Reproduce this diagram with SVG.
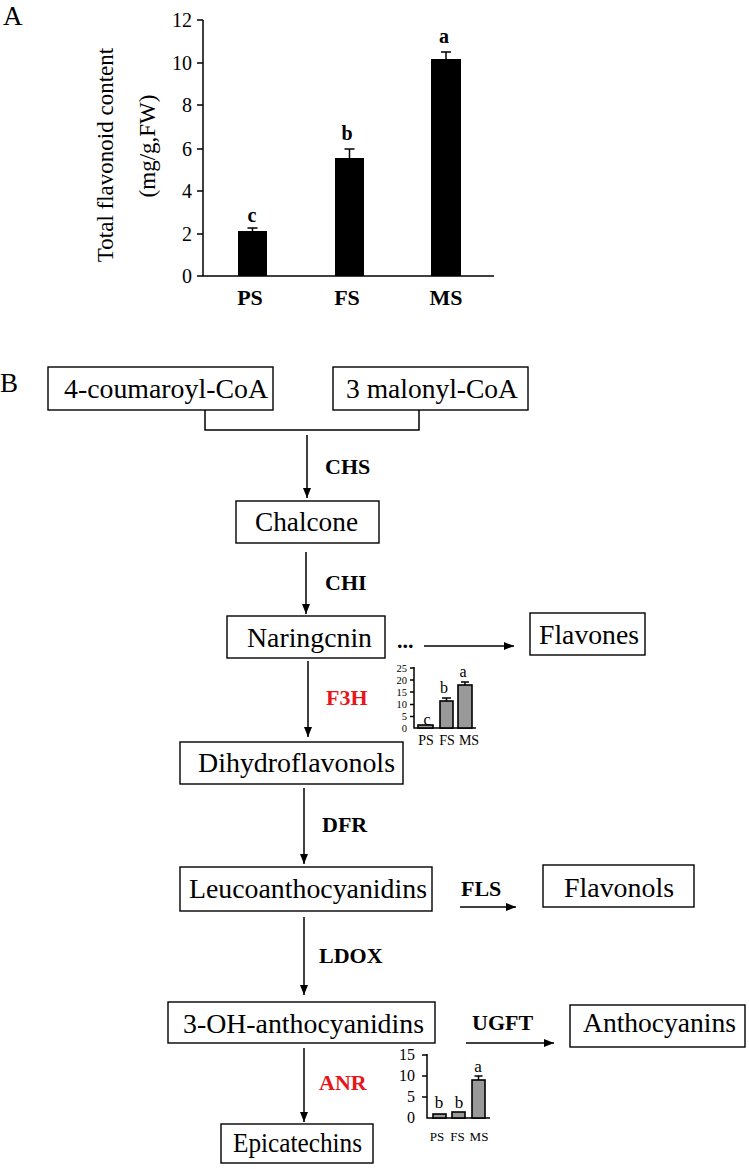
<svg xmlns="http://www.w3.org/2000/svg" width="749" height="1169" viewBox="0 0 749 1169">
<style>
.t{font-family:"Liberation Serif","Times New Roman",serif;fill:#000}
.node{font-size:27px}
.enz{font-size:22px;font-weight:bold}
.red{fill:#e8161b}
.box{fill:#fff;stroke:#000;stroke-width:1.4}
.ln{stroke:#000;stroke-width:1.5;fill:none}
.bar{fill:#000}
.gbar{fill:#999;stroke:#000;stroke-width:1.6}
</style>
<defs>
<marker id="ah" markerUnits="userSpaceOnUse" markerWidth="10" markerHeight="10" viewBox="0 0 10 10" refX="10" refY="5" orient="auto">
<path d="M0,1 L10,5 L0,9 Z" fill="#000"/>
</marker>
</defs>
<rect width="749" height="1169" fill="#fff"/>

<g id="chartA">
<text class="t" x="3" y="25" font-size="27">A</text>
<text class="t" font-size="23" text-anchor="middle" transform="translate(113,155) rotate(-90)">Total flavonoid content</text>
<text class="t" font-size="23" text-anchor="middle" transform="translate(155,146) rotate(-90)">(mg/g,FW)</text>
<path class="ln" d="M203,20 V276 H494 M197,20 H203 M197,63 H203 M197,105 H203 M197,149 H203 M197,191 H203 M197,234 H203 M197,276 H203"/>
<g class="t" font-size="20" text-anchor="end">
<text x="192" y="27">12</text>
<text x="192" y="70">10</text>
<text x="192" y="112">8</text>
<text x="192" y="156">6</text>
<text x="192" y="198">4</text>
<text x="192" y="241">2</text>
<text x="192" y="283">0</text>
</g>
<rect class="bar" x="238" y="231" width="29" height="45"/>
<rect class="bar" x="335" y="158" width="29" height="118"/>
<rect class="bar" x="431" y="59" width="30" height="217"/>
<path class="ln" d="M252.5,231 V228 M247.5,228 H257.5 M349.5,158 V149 M344.5,149 H354.5 M446,59 V52 M441,52 H451"/>
<g class="t" font-size="20" font-weight="bold" text-anchor="middle">
<text x="252" y="222">c</text>
<text x="347" y="140">b</text>
<text x="444" y="43">a</text>
</g>
<g class="t" font-size="22" font-weight="bold" text-anchor="middle">
<text x="250" y="305">PS</text>
<text x="347" y="305">FS</text>
<text x="446" y="305">MS</text>
</g>
</g>

<text class="t" x="0" y="392" font-size="27">B</text>

<g id="connectors">
<path class="ln" d="M205,410 V430 H419 V410"/>
<line class="ln" x1="307" y1="435" x2="307" y2="498" marker-end="url(#ah)"/>
<line class="ln" x1="306" y1="552" x2="306" y2="614" marker-end="url(#ah)"/>
<line class="ln" x1="308" y1="661" x2="308" y2="737" marker-end="url(#ah)"/>
<line class="ln" x1="304" y1="788" x2="304" y2="864" marker-end="url(#ah)"/>
<line class="ln" x1="304" y1="917" x2="304" y2="995" marker-end="url(#ah)"/>
<line class="ln" x1="304" y1="1048" x2="304" y2="1122" marker-end="url(#ah)"/>
<line class="ln" x1="424" y1="646" x2="514" y2="646" marker-end="url(#ah)"/>
<line class="ln" x1="460" y1="907" x2="516" y2="907" marker-end="url(#ah)"/>
<line class="ln" x1="466" y1="1043" x2="554" y2="1043" marker-end="url(#ah)"/>
</g>

<g id="enzymes" class="t enz">
<text x="325" y="474">CHS</text>
<text x="325" y="590">CHI</text>
<text class="red" x="326" y="705">F3H</text>
<text x="322" y="832">DFR</text>
<text x="461" y="896">FLS</text>
<text x="319" y="963">LDOX</text>
<text x="472" y="1030">UGFT</text>
<text class="red" x="319" y="1090">ANR</text>
</g>
<text class="t" x="397" y="648" font-size="22" font-weight="bold">...</text>

<g id="n-coumaroyl"><rect class="box" x="48" y="367" width="225" height="43"/><text class="t node" x="166" y="398" text-anchor="middle" textLength="204" lengthAdjust="spacingAndGlyphs">4-coumaroyl-CoA</text></g>
<g id="n-malonyl"><rect class="box" x="333" y="367" width="195" height="43"/><text class="t node" x="432" y="398" text-anchor="middle" textLength="172" lengthAdjust="spacingAndGlyphs">3 malonyl-CoA</text></g>
<g id="n-chalcone"><rect class="box" x="236" y="501" width="143" height="42"/><text class="t node" x="306.5" y="531" text-anchor="middle" textLength="103" lengthAdjust="spacingAndGlyphs">Chalcone</text></g>
<g id="n-naringenin"><rect class="box" x="227" y="616" width="158" height="42"/><text class="t node" x="309.5" y="647" text-anchor="middle" textLength="125" lengthAdjust="spacingAndGlyphs">Naringcnin</text></g>
<g id="n-flavones"><rect class="box" x="530" y="613" width="115" height="42"/><text class="t node" x="589" y="644" text-anchor="middle" textLength="100" lengthAdjust="spacingAndGlyphs">Flavones</text></g>
<g id="n-dihydroflavonols"><rect class="box" x="180" y="742" width="223" height="42"/><text class="t node" x="296.5" y="772" text-anchor="middle" textLength="197" lengthAdjust="spacingAndGlyphs">Dihydroflavonols</text></g>
<g id="n-leuco"><rect class="box" x="180" y="867" width="252" height="44"/><text class="t node" x="308" y="898" text-anchor="middle" textLength="238" lengthAdjust="spacingAndGlyphs">Leucoanthocyanidins</text></g>
<g id="n-flavonols"><rect class="box" x="543" y="865" width="151" height="42"/><text class="t node" x="619" y="897" text-anchor="middle" textLength="110" lengthAdjust="spacingAndGlyphs">Flavonols</text></g>
<g id="n-3oh"><rect class="box" x="168" y="1002" width="267" height="41"/><text class="t node" x="303.5" y="1033" text-anchor="middle" textLength="241" lengthAdjust="spacingAndGlyphs">3-OH-anthocyanidins</text></g>
<g id="n-anthocyanins"><rect class="box" x="570" y="1005" width="175" height="42"/><text class="t node" x="659.5" y="1032" text-anchor="middle" textLength="153" lengthAdjust="spacingAndGlyphs">Anthocyanins</text></g>
<g id="n-epicatechins"><rect class="box" x="221" y="1124" width="152" height="39"/><text class="t node" x="297.5" y="1152" text-anchor="middle" textLength="129" lengthAdjust="spacingAndGlyphs">Epicatechins</text></g>

<g id="inset-F3H">
<path class="ln" d="M414,667 V728 H476 M410,668 H414 M410,680 H414 M410,692 H414 M410,704.5 H414 M410,716.5 H414"/>
<g class="t" font-size="10.5" text-anchor="end">
<text x="407" y="671.5">25</text>
<text x="407" y="683.5">20</text>
<text x="407" y="695.5">15</text>
<text x="407" y="708">10</text>
<text x="407" y="720">5</text>
<text x="407" y="732">0</text>
</g>
<rect class="gbar" x="418" y="725" width="15" height="3"/>
<rect class="gbar" x="440" y="701" width="13" height="27"/>
<rect class="gbar" x="458" y="685" width="14" height="43"/>
<path class="ln" d="M446.5,701 V698 M442,698 H451 M465,685 V682 M461,682 H469"/>
<g class="t" font-size="16" text-anchor="middle">
<text x="427" y="725">c</text>
<text x="444" y="693">b</text>
<text x="463" y="677">a</text>
</g>
<g class="t" font-size="14" text-anchor="middle">
<text x="426" y="745">PS</text>
<text x="447" y="745">FS</text>
<text x="469" y="745">MS</text>
</g>
</g>

<g id="inset-ANR">
<path class="ln" d="M427,1054 V1118 H490 M422,1055 H427 M422,1076 H427 M422,1097 H427"/>
<g class="t" font-size="16" text-anchor="end">
<text x="415" y="1060">15</text>
<text x="415" y="1081">10</text>
<text x="415" y="1102">5</text>
<text x="415" y="1123">0</text>
</g>
<rect class="gbar" x="433" y="1114" width="13" height="4"/>
<rect class="gbar" x="452" y="1112" width="13" height="6"/>
<rect class="gbar" x="472" y="1080" width="13" height="38"/>
<path class="ln" d="M478.5,1080 V1076 M474.5,1076 H482.5"/>
<g class="t" font-size="17" text-anchor="middle">
<text x="439" y="1108">b</text>
<text x="459" y="1108">b</text>
<text x="478" y="1072">a</text>
</g>
<g class="t" font-size="13" text-anchor="middle">
<text x="437" y="1141">PS</text>
<text x="457.5" y="1141">FS</text>
<text x="479" y="1141">MS</text>
</g>
</g>
</svg>
